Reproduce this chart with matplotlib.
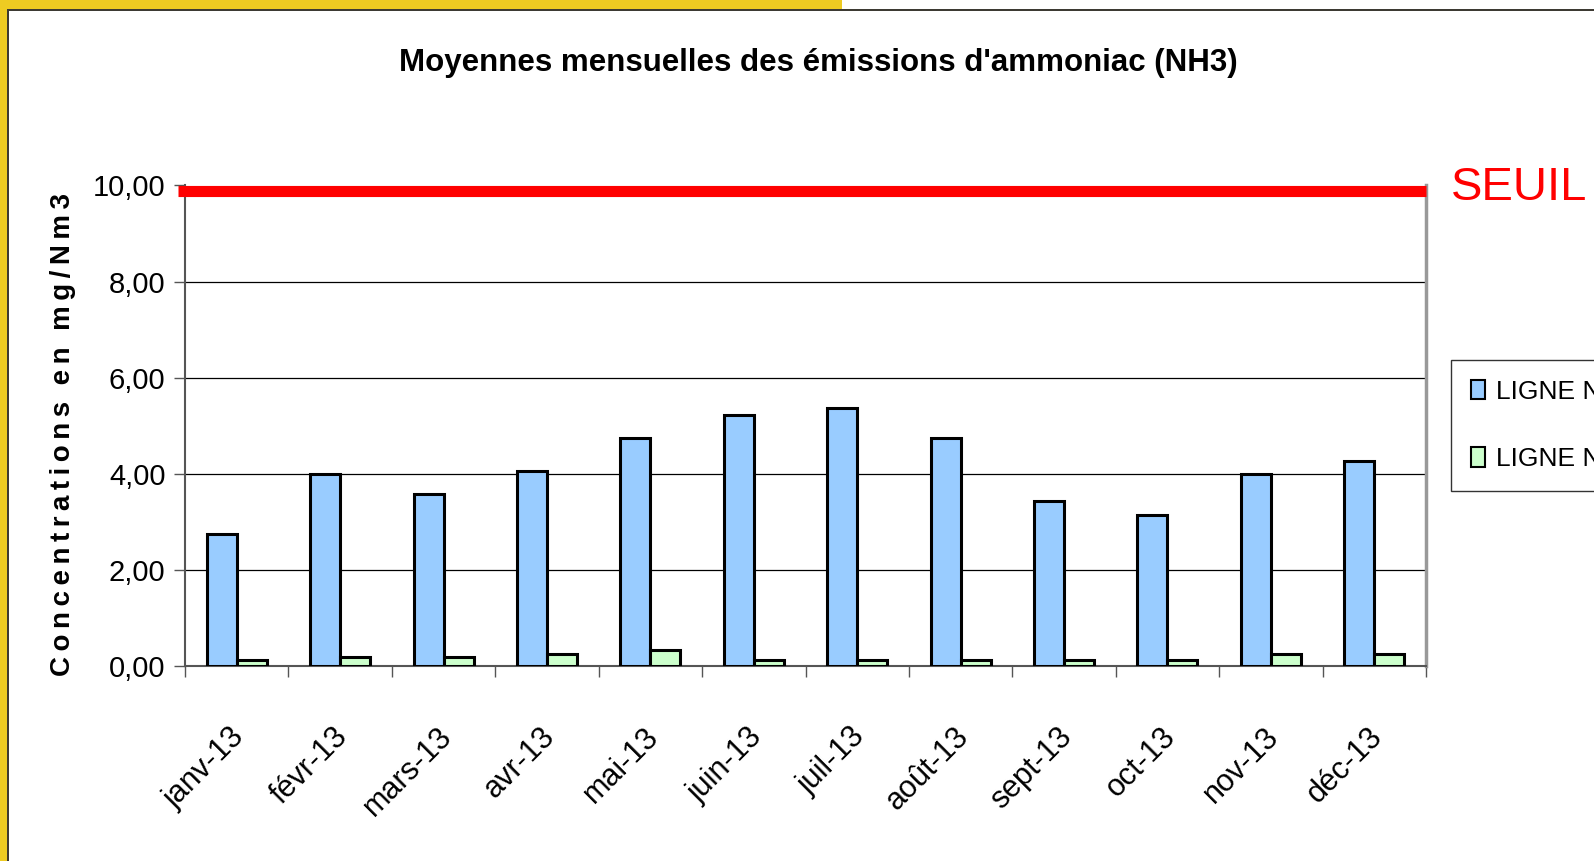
import matplotlib
matplotlib.use('Agg')
import matplotlib.pyplot as plt
import matplotlib.transforms as mtransforms
from matplotlib.patches import Rectangle, Patch
import numpy as np

mois = ['janv-13', 'févr-13', 'mars-13', 'avr-13', 'mai-13', 'juin-13',
        'juil-13', 'août-13', 'sept-13', 'oct-13', 'nov-13', 'déc-13']
ligne1 = [2.74, 4.00, 3.57, 4.06, 4.75, 5.23, 5.37, 4.75, 3.44, 3.15, 4.00, 4.27]
ligne2 = [0.12, 0.19, 0.19, 0.26, 0.33, 0.12, 0.12, 0.12, 0.12, 0.12, 0.26, 0.26]
seuil = 9.89
yticks = [0, 2, 4, 6, 8, 10]
ytick_labels = ['0,00', '2,00', '4,00', '6,00', '8,00', '10,00']

narrow = ['Liberation Sans Narrow', 'Liberation Sans', 'DejaVu Sans']
regular = ['Liberation Sans', 'DejaVu Sans']

W, H = 1594, 861
fig = plt.figure(figsize=(W / 100, H / 100), dpi=100)
fig.patch.set_facecolor('white')

# cadre jaune / gris
yellow = '#EECB22'
fig.patches.append(Rectangle((0, 1 - 9 / H), 842 / W, 9 / H, transform=fig.transFigure,
                             facecolor=yellow, edgecolor='none', zorder=0))
fig.patches.append(Rectangle((0, 0), 7 / W, 1, transform=fig.transFigure,
                             facecolor=yellow, edgecolor='none', zorder=0))
fig.patches.append(Rectangle((7 / W, 1 - 11 / H), 1, 2 / H, transform=fig.transFigure,
                             facecolor='#3d3a33', edgecolor='none', zorder=1))
fig.patches.append(Rectangle((7 / W, 0), 2 / W, 1 - 9 / H, transform=fig.transFigure,
                             facecolor='#3d3a33', edgecolor='none', zorder=1))

ax = fig.add_axes([185 / W, 1 - 666 / H, (1426 - 185) / W, (666 - 185.5) / H])
x = np.arange(len(mois))
w = 0.29
ax.bar(x - w / 2, ligne1, w, color='#99CCFF', edgecolor='black', linewidth=2.2, zorder=3)
ax.bar(x + w / 2, ligne2, w, color='#CCFFCC', edgecolor='black', linewidth=2.2, zorder=3)

ax.set_xlim(-0.5, len(mois) - 0.5)
ax.set_ylim(0, 10)
ax.set_yticks(yticks)
ax.set_yticklabels(ytick_labels, family=narrow, fontsize=21)
ax.yaxis.grid(True, color='black', linewidth=0.9, zorder=1)
ax.set_axisbelow(True)

ax.set_xticks(np.arange(len(mois) + 1) - 0.5)
ax.set_xticklabels([])
ax.set_xticks(x, minor=True)
ax.set_xticklabels(mois, minor=True, rotation=45, ha='right', va='top',
                   rotation_mode='anchor', family=regular, fontsize=22)
ax.tick_params(axis='x', which='minor', length=0, pad=40)
ax.tick_params(axis='x', which='major', length=8, width=1, color='#555555')
ax.tick_params(axis='y', length=8, width=1, color='#555555', pad=6)
off = mtransforms.ScaledTranslation(-7 / 100, 0, fig.dpi_scale_trans)
for lab in ax.get_xticklabels(minor=True):
    lab.set_transform(lab.get_transform() + off)

for s in ['left', 'bottom']:
    ax.spines[s].set_color('#555555')
    ax.spines[s].set_linewidth(1.5)
ax.spines['right'].set_color('#999999')
ax.spines['right'].set_linewidth(2.5)
ax.spines['top'].set_visible(False)

ax.axhline(seuil, xmin=-0.006, xmax=1, color='#FF0000', linewidth=8, clip_on=False,
           zorder=5, solid_capstyle='butt')
fig.text(1451 / W, 1 - 188 / H, 'SEUIL', color='#FF0000', fontsize=34, family=regular,
         ha='left', va='center')

fig.text(818 / W, 1 - 63 / H, "Moyennes mensuelles des émissions d'ammoniac (NH3)",
         family=narrow, fontsize=22.5, fontweight='bold', ha='center', va='center')

ts = '\u2009'
ylab = '\u2009\u2009\u2009'.join(ts.join(word) for word in ['Concentrations', 'en', 'mg/Nm3'])
fig.text(63 / W, 1 - 435 / H, ylab, family=regular, fontsize=20, fontweight='bold',
         rotation=90, ha='center', va='center')

handles = [Patch(facecolor='#99CCFF', edgecolor='black', linewidth=1.5, label='LIGNE N°1'),
           Patch(facecolor='#CCFFCC', edgecolor='black', linewidth=1.5, label='LIGNE N°2')]
leg = fig.legend(handles=handles, loc='upper left', bbox_to_anchor=(1451 / W, 1 - 360 / H),
                 prop={'family': narrow, 'size': 19}, frameon=True, fancybox=False,
                 edgecolor='black', borderpad=0.75, labelspacing=1.65, handlelength=0.55,
                 handleheight=0.75, handletextpad=0.4, borderaxespad=0)
leg.get_frame().set_linewidth(1)

fig.savefig('out.png', dpi=100)
